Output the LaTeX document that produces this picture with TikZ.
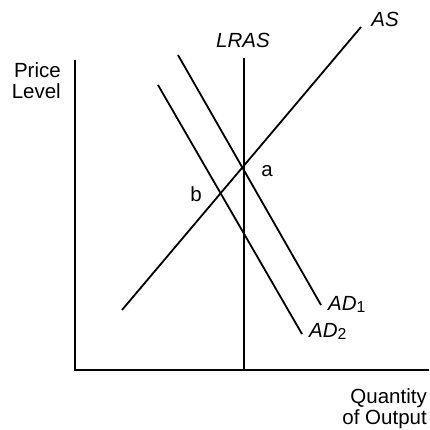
\documentclass[tikz,border=0pt]{standalone}
\usepackage{fontspec}
\setmainfont{Liberation Sans}
\usetikzlibrary{positioning}

\newcommand{\curvesub}[1]{\raisebox{-2.4pt}{\upshape\fontsize{13.5}{13.5}\selectfont #1}}

\begin{document}
\begin{tikzpicture}[
    x=0.3mm, y=-0.3mm,
    axis/.style={line width=2.4pt,black},
    curve/.style={line width=1.55pt,black},
    lab/.style={inner sep=0pt,font=\fontsize{17.5}{18.5}\selectfont},
    curvelab/.style={inner sep=0pt,font=\fontsize{17.5}{18.5}\selectfont\itshape}]

  \useasboundingbox (0,0) rectangle (430,429);

  % ---- the axes ----
  \coordinate (ytop) at (75,60);
  \coordinate (o)    at (75,370);
  \coordinate (xend) at (429,370);
  \draw[axis] (ytop) -- (o) -- (xend);

  % ---- long-run supply ----
  \coordinate (lrasT) at (244,58);
  \coordinate (lrasB) at (244,370);
  \draw[curve] (lrasT) -- (lrasB);

  % ---- short-run supply and the two demand curves ----
  \coordinate (asL)  at (122,310);
  \coordinate (asR)  at (361,27);
  \coordinate (ad1T) at (178,55);
  \coordinate (ad1B) at (321,305);
  \coordinate (ad2T) at (158,85);
  \coordinate (ad2B) at (302,334);
  \draw[curve] (asL) -- (asR);
  \draw[curve] (ad1T) -- (ad1B);
  \draw[curve] (ad2T) -- (ad2B);

  % ---- labels ----
  \node[curvelab] (lras) at (243,40) {LRAS};
  \node[curvelab] (as)   at (385,19) {AS};
  \node[lab,anchor=base] (a) at (267,176) {a};
  \node[lab,anchor=base] (b) at (196,201) {b};
  \node[curvelab,anchor=base west] (ad1) at (328,310) {AD\curvesub{1}};
  \node[curvelab,anchor=base west] (ad2) at (309,337) {AD\curvesub{2}};
  \node[lab,align=right,anchor=north east] (ylab) at (61,62)  {Price\\Level};
  \node[lab,align=right,anchor=north east] (xlab) at (427,388) {Quantity\\of Output};
\end{tikzpicture}
\end{document}
